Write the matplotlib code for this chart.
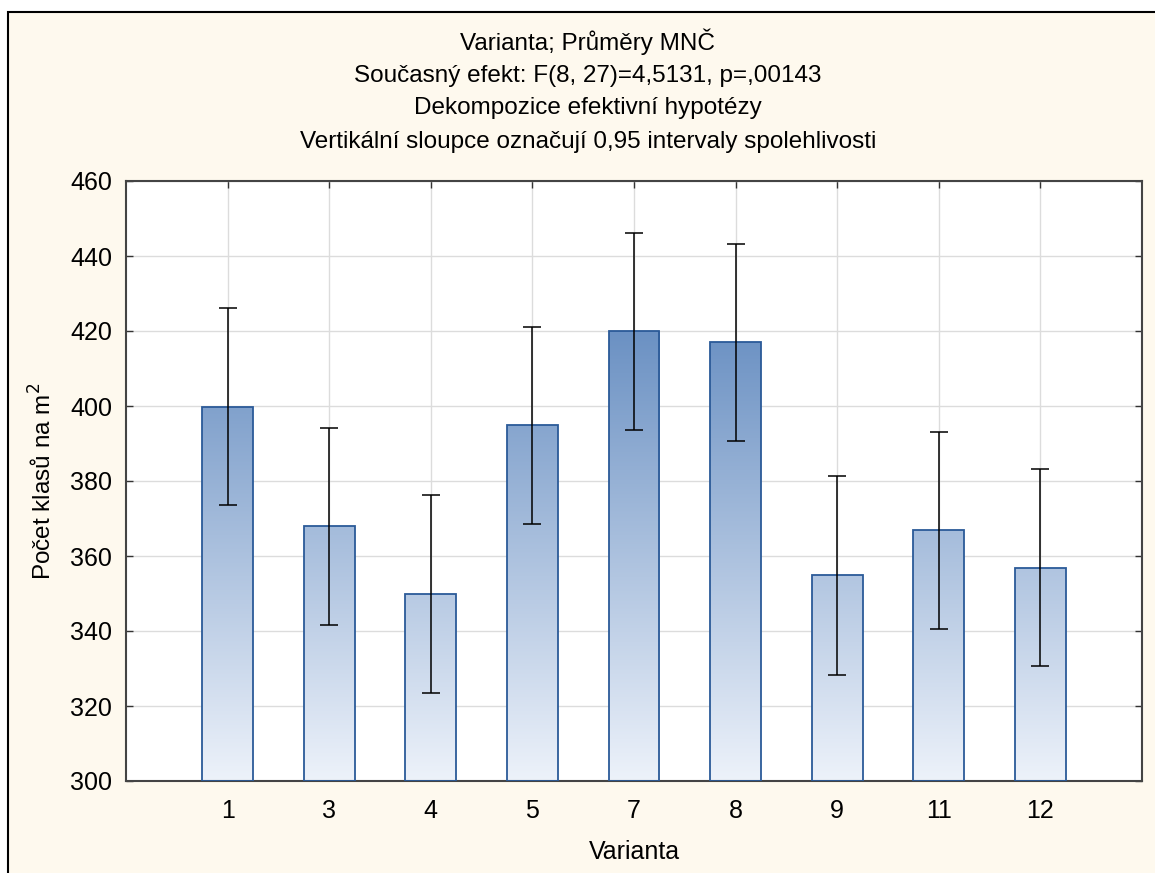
import numpy as np
import matplotlib.pyplot as plt
from matplotlib.colors import LinearSegmentedColormap
from matplotlib.patches import Rectangle

# data
varianta = ["1", "3", "4", "5", "7", "8", "9", "11", "12"]
means = [399.8, 367.9, 349.9, 395.0, 420.0, 417.0, 354.9, 367.0, 356.7]
ci_low = [373.6, 341.6, 323.5, 368.5, 393.5, 390.6, 328.4, 340.6, 330.6]
ci_high = [426.1, 394.2, 376.2, 421.1, 446.1, 443.1, 381.4, 393.2, 383.1]

title_lines = [
    "Varianta; Průměry MNČ",
    "Současný efekt: F(8, 27)=4,5131, p=,00143",
    "Dekompozice efektivní hypotézy",
    "Vertikální sloupce označují 0,95 intervaly spolehlivosti",
]

plt.rcParams['font.family'] = ['Liberation Sans', 'DejaVu Sans']

W, H = 1155, 873
fig = plt.figure(figsize=(W / 100, H / 100), dpi=100, facecolor="white")

# cream panel with black frame (left and top edges visible)
fig.add_artist(Rectangle((8 / W, -0.1), 1.2, 1 - 12 / H + 0.1,
                         transform=fig.transFigure, facecolor="#fef9ee",
                         edgecolor="black", linewidth=1.5, zorder=-10))

ax = fig.add_axes([126 / W, 1 - 781 / H, (1142 - 126) / W, (781 - 181) / H])
ax.set_facecolor("white")

x = np.arange(1, len(varianta) + 1)
width = 0.5
ymin, ymax = 300, 460

cmap = LinearSegmentedColormap.from_list("bars", ["#edf2fa", "#6b91c3"])
grad = np.linspace(0, 1, 256).reshape(-1, 1)

bars = ax.bar(x, np.array(means) - ymin, bottom=ymin, width=width,
              facecolor="none", edgecolor="#2b5a98", linewidth=1.3, zorder=3)
for b in bars:
    x0 = b.get_x()
    im = ax.imshow(grad, cmap=cmap, origin="lower", aspect="auto",
                   extent=[x0, x0 + width, ymin, 420], zorder=2)
    im.set_clip_path(b)

err = [np.array(means) - np.array(ci_low), np.array(ci_high) - np.array(means)]
ax.errorbar(x, means, yerr=err, fmt="none", ecolor="black", elinewidth=1.1,
            capsize=6.5, capthick=1.1, zorder=4)

ax.set_xlim(0, len(varianta) + 1)
ax.set_ylim(ymin, ymax)
ax.set_xticks(x)
ax.set_xticklabels(varianta)
ax.set_yticks(np.arange(300, 461, 20))
ax.grid(True, color="#dcdcdc", linewidth=1.0, zorder=0)
ax.set_axisbelow(True)
ax.tick_params(direction="in", top=True, right=True, length=5, width=1,
               labelsize=18, colors="#333333", labelcolor="black")
ax.tick_params(axis="x", pad=13)
ax.tick_params(axis="y", pad=10)
for s in ax.spines.values():
    s.set_color("#444444")
    s.set_linewidth(1.5)

ax.set_xlabel("Varianta", fontsize=18, labelpad=12)
ax.set_ylabel("Počet klasů na m$^2$", fontsize=17.5, labelpad=10)

line_y = [42, 76, 108, 142]
for t, yy in zip(title_lines, line_y):
    fig.text(588 / W, 1 - yy / H, t, ha="center", va="center", fontsize=17.5)

fig.savefig("out.png", dpi=100, facecolor=fig.get_facecolor())
